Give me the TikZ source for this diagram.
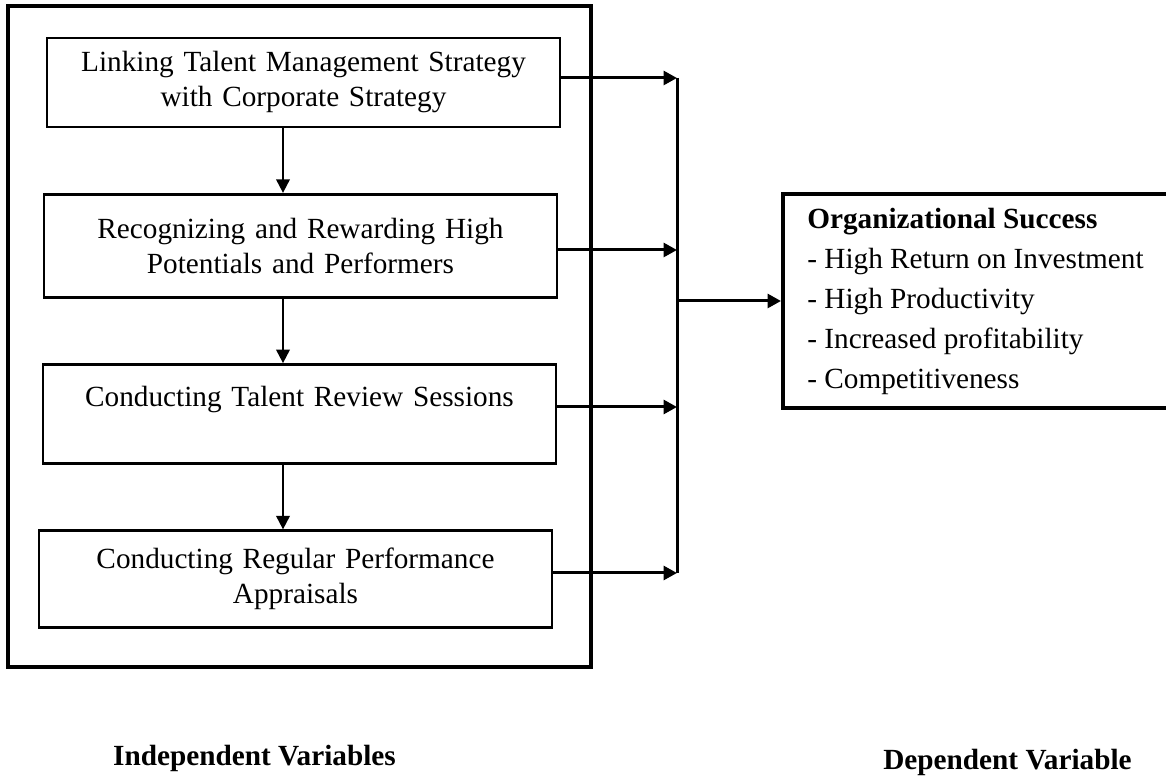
\documentclass[tikz,border=0pt]{standalone}
\usepackage{fontspec}
\setmainfont{Liberation Serif}
\usetikzlibrary{arrows.meta,positioning}

\begin{document}
\begin{tikzpicture}[x=0.4pt, y=-0.4pt,
			block/.style={rectangle, draw, line width=1.1pt, text width=190pt, inner xsep=7.6pt,
					align=center, font=\fontsize{11.7}{14}\selectfont},
			ivframe/.style={rectangle, draw, line width=1.6pt, inner sep=0pt},
			outcome/.style={rectangle, draw, line width=1.6pt, align=left,
					font=\fontsize{11.7}{16}\selectfont},
			heading/.style={font=\fontsize{11.7}{14}\selectfont\bfseries, anchor=base},
			arrow/.style={-{Triangle[length=5.4pt, width=5.6pt]}, line width=1.2pt},
			downarrow/.style={-{Triangle[length=5.4pt, width=5.4pt]}, line width=0.8pt},
			node distance=25.8pt
		]
		\useasboundingbox (0,0) rectangle (1166,777);

		% Independent variables
		\node[ivframe, minimum width=233.2pt, minimum height=264.4pt] (iv) at (299.5,336.5) {};
		\node[block, minimum height=35.6pt] (link) at (303.5,82.5) {Linking Talent Management Strategy\\ with Corporate Strategy};
		\node[block, minimum height=41.2pt, below=of link, xshift=-1.2pt] (reward) {Recognizing and Rewarding High\\ Potentials and Performers};
		\node[block, minimum height=39.6pt, below=of reward, xshift=-0.4pt] (review) {Conducting Talent Review Sessions\\ \mbox{}};
		\node[block, minimum height=38.8pt, below=of review, xshift=-1.6pt] (appraise) {Conducting Regular Performance\\ Appraisals};

		% Dependent variable
		\node[outcome, minimum width=154pt, minimum height=85.6pt] (dv) at (975.5,301) {\textbf{Organizational Success}\\ - High Return on Investment\\ - High Productivity\\ - Increased profitability\\ - Competitiveness};

		% Labels
		\node[heading] (ivlabel) at (254.5,765) {Independent Variables};
		\node[heading] (dvlabel) at (1007.5,769) {Dependent Variable};

		% Connections
		\coordinate (col) at (283,0);
		\draw[downarrow] (link.south -| col) -- (reward.north -| col);
		\draw[downarrow] (reward.south -| col) -- (review.north -| col);
		\draw[downarrow] (review.south -| col) -- (appraise.north -| col);

		\coordinate (bus) at (677,78);
		\coordinate (busend) at (677,573);
		\draw[line width=1.2pt] (bus) -- (busend);
		\foreach \n/\y in {link/78, reward/250, review/407, appraise/573}
			\draw[arrow] (\n.east |- 0,\y) -- (bus |- 0,\y);
		\draw[arrow] (dv.west -| bus) -- (dv.west);
	\end{tikzpicture}
\end{document}
